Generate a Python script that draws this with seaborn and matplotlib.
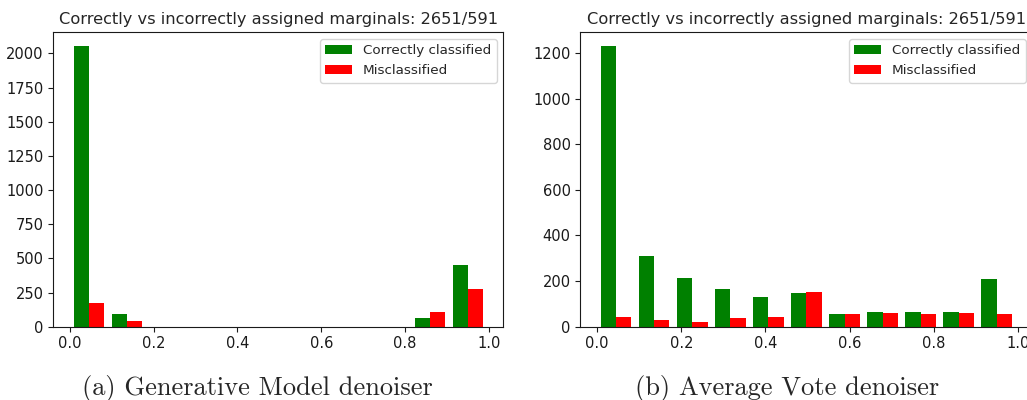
import pandas as pd
import matplotlib
matplotlib.use("Agg")
import matplotlib.pyplot as plt
import seaborn as sns

# histogram bins (centres) shared by both panels
bin_centers = [0.0452, 0.1357, 0.2261, 0.3166, 0.4070, 0.4975,
               0.5880, 0.6784, 0.7689, 0.8593, 0.9498]
labels = ["Correctly classified", "Misclassified"]

# (a) generative model denoiser
gen_correct = [2052, 92, 0, 0, 0, 0, 0, 0, 0, 61, 448]
gen_wrong = [170, 41, 0, 0, 0, 0, 0, 0, 0, 110, 278]

# (b) average vote denoiser
vote_correct = [1230, 308, 214, 167, 131, 149, 55, 66, 66, 66, 207]
vote_wrong = [42, 31, 19, 37, 42, 154, 54, 60, 54, 60, 54]

title = "Correctly vs incorrectly assigned marginals: 2651/591"
captions = ["(a) Generative Model denoiser", "(b) Average Vote denoiser"]


def long_df(correct, wrong):
    return pd.DataFrame({
        "marginal": bin_centers * 2,
        "count": correct + wrong,
        "kind": [labels[0]] * len(correct) + [labels[1]] * len(wrong),
    })


sns.set_style("ticks")
plt.rcParams["font.family"] = ["DejaVu Sans"]

fig = plt.figure(figsize=(10.27, 4), dpi=100)
ax1 = fig.add_axes([0.0519, 0.1833, 0.4382, 0.736])
ax2 = fig.add_axes([0.5652, 0.1833, 0.4401, 0.736])  # right panel runs off the edge, as in the original

for ax, (c, w), cap, cx in zip(
    [ax1, ax2],
    [(gen_correct, gen_wrong), (vote_correct, vote_wrong)],
    captions,
    [0.251, 0.766],
):
    sns.barplot(data=long_df(c, w), x="marginal", y="count", hue="kind",
                native_scale=True, palette=["green", "red"], errorbar=None,
                saturation=1, linewidth=0, ax=ax)
    ax.set_xlabel("")
    ax.set_ylabel("")
    ax.set_title(title, fontsize=11.7)
    ax.tick_params(labelsize=10.5, colors="0.1")
    for s in ax.spines.values():
        s.set_color("0.1")
    leg = ax.get_legend()
    handles = leg.legend_handles
    texts = [t.get_text() for t in leg.get_texts()]
    ax.legend(handles, texts, loc="upper right", fontsize=9.7)
    fig.text(cx, 0.03, cap, ha="center", va="center",
             fontfamily="cmr10", fontsize=19)

fig.savefig("out.png", dpi=100)
